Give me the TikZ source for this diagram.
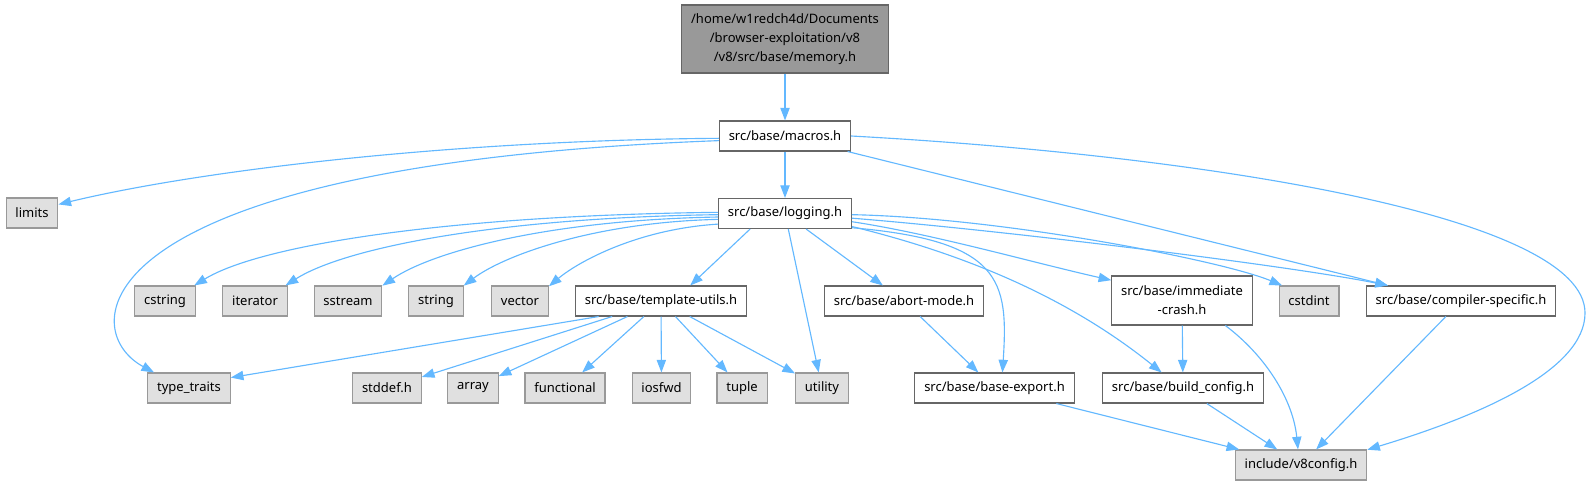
\documentclass[tikz,border=0pt]{standalone}
\usepackage{fontspec}
\setmainfont{Noto Sans}
\usetikzlibrary{arrows.meta}
\definecolor{edgeblue}{HTML}{63B8FF}
\definecolor{filegray}{HTML}{666666}
\definecolor{sysborder}{HTML}{999999}
\definecolor{sysfill}{HTML}{E0E0E0}
\definecolor{rootfill}{HTML}{999999}
\begin{document}
\begin{tikzpicture}[x=0.75pt, y=-0.75pt,
  file/.style={rectangle, draw=filegray, fill=white, line width=0.8pt, minimum height=22.5pt, inner xsep=7pt, inner ysep=0pt, font=\fontsize{9.75}{14.25}\selectfont, align=center},
  sys/.style={file, draw=sysborder, fill=sysfill},
  root/.style={file, draw=filegray, fill=rootfill, minimum height=51pt},
  dep/.style={-{Triangle[length=9.5pt,width=7pt]}, draw=edgeblue, line width=0.85pt}
]
  \useasboundingbox (0,0) rectangle (1590,486);

  % top of the graph
  \node[root] (memory) at (785,39) {/home/w1redch4d/Documents\\/browser-exploitation/v8\\/v8/src/base/memory.h};
  \node[file] (macros) at (785,136) {src/base/macros.h};
  \node[sys] (limits) at (32,213) {limits};
  \node[file] (logging) at (785,213.5) {src/base/logging.h};

  % headers included by logging.h
  \node[sys] (cstring) at (165,301) {cstring};
  \node[sys] (iterator) at (255,301) {iterator};
  \node[sys] (sstream) at (348,301) {sstream};
  \node[sys] (string) at (436,301) {string};
  \node[sys] (vector) at (520,301) {vector};
  \node[file] (tmpl) at (661,301) {src/base/template-utils.h};
  \node[file] (abort) at (904,301) {src/base/abort-mode.h};
  \node[file, minimum height=36.75pt] (crash) at (1182,300.5) {src/base/immediate\\-crash.h};
  \node[sys] (cstdint) at (1309,301) {cstdint};
  \node[file] (compiler) at (1461,301) {src/base/compiler-specific.h};

  % lower row
  \node[sys] (typetraits) at (189,388) {type\_traits};
  \node[sys] (stddef) at (387,388) {stddef.h};
  \node[sys] (array) at (473,388) {array};
  \node[sys] (functional) at (565,388) {functional};
  \node[sys] (iosfwd) at (661.5,388) {iosfwd};
  \node[sys] (tuple) at (742,388) {tuple};
  \node[sys] (utility) at (822,388) {utility};
  \node[file] (baseexport) at (994.5,388) {src/base/base-export.h};
  \node[file] (buildconfig) at (1183,388) {src/base/build\_config.h};
  \node[sys] (v8config) at (1301,465) {include/v8config.h};

  \coordinate (rbend) at (1585,313);

  % memory.h and macros.h
  \draw[dep] (memory) -- (macros);
  \draw[dep] (macros) -- (logging);
  \draw[dep] (macros.182) .. controls +(-268,2) and +(141,-34) .. (limits.18);
  \draw[dep] (macros.184) .. controls +(-638,24) and +(-80,-43) .. (typetraits.156);
  \draw[dep] (macros) -- (compiler.168);
  \draw[dep] (macros.east) .. controls +(348,19) and +(0,-98) .. (rbend)
    .. controls +(0,57) and +(113,-34) .. (v8config.13);

  % logging.h, left fan
  \draw[dep] (logging.179) .. controls +(-267,3) and +(67,-41) .. (cstring.28);
  \draw[dep] (logging.181) .. controls +(-220,3) and +(60,-38) .. (iterator.27);
  \draw[dep] (logging.183) .. controls +(-170,3) and +(50,-34) .. (sstream.24);
  \draw[dep] (logging.185) .. controls +(-125,3) and +(40,-30) .. (string.29);
  \draw[dep] (logging.189) .. controls +(-80,5) and +(30,-25) .. (vector.27);
  \draw[dep] (logging.204) -- (tmpl.28);
  \draw[dep] (logging) -- (utility);
  \draw[dep] (logging) -- (abort);

  % logging.h, right fan
  \draw[dep] (logging.348) .. controls +(150,13) and +(6,-92) .. (baseexport.63);
  \draw[dep] (logging.349) .. controls +(98,24) and +(-102,-82) .. (buildconfig.144);
  \draw[dep] (logging.353) .. controls +(80,12) and +(-80,-18) .. (crash.164);
  \draw[dep] (logging.359) .. controls +(150,3) and +(-60,-25) .. (cstdint.150);
  \draw[dep] (logging.356) .. controls +(150,12) and +(-100,-20) .. (compiler.168);

  % template-utils.h
  \draw[dep] (tmpl.194) -- (typetraits.14);
  \draw[dep] (tmpl) -- (stddef);
  \draw[dep] (tmpl) -- (array);
  \draw[dep] (tmpl) -- (functional);
  \draw[dep] (tmpl) -- (iosfwd);
  \draw[dep] (tmpl) -- (tuple);
  \draw[dep] (tmpl) -- (utility);

  % down to v8config.h
  \draw[dep] (abort) -- (baseexport);
  \draw[dep] (crash) -- (buildconfig);
  \draw[dep] (crash.330) .. controls +(40,30) and +(-5,-50) .. (v8config.101);
  \draw[dep] (compiler) -- (v8config);
  \draw[dep] (baseexport) -- (v8config);
  \draw[dep] (buildconfig) -- (v8config);
\end{tikzpicture}
\end{document}
